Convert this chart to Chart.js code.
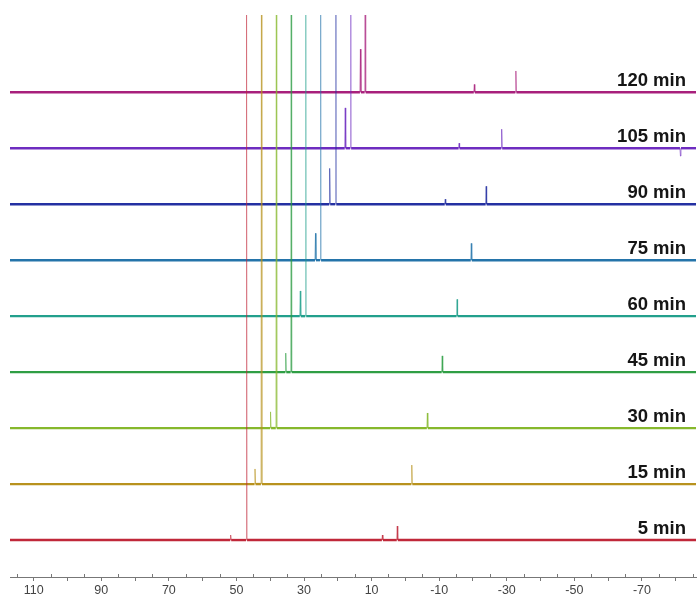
<!DOCTYPE html>
<html>
<head>
<meta charset="utf-8">
<title>Stacked spectra</title>
<script src="https://cdn.jsdelivr.net/npm/chart.js@4.4.1/dist/chart.umd.min.js"></script>
<style>
  html, body { margin: 0; padding: 0; background: #fff; }
  canvas { display: block; }
</style>
</head>
<body>
<canvas id="spectra" width="697" height="601"></canvas>
<script>
// reaction time for each trace, bottom to top
const timeLabels = ['5 min', '15 min', '30 min', '45 min', '60 min', '75 min', '90 min', '105 min', '120 min'];
const traceColors = ['#c0283a', '#b8921e', '#86b82c', '#2f9e44', '#22a08c', '#2474aa', '#2430a2', '#6e2cc0', '#a8207c'];

// chemical shifts (ppm) and intensities of the peaks in each trace
const mainShift = [47.0, 42.6, 38.2, 33.8, 29.5, 25.1, 20.6, 16.2, 11.9];
const mainHeight = [1000, 1000, 1000, 1000, 1000, 1000, 1000, 1000, 1000]; // off scale
const shoulderShift = [51.7, 44.5, 39.9, 35.4, 31.1, 26.6, 22.4, 17.8, 13.3];
const shoulderHeight = [9, 27, 29, 34, 45, 48, 64, 72, 77];
const upfieldShift = [2.4, -1.9, -6.5, -10.9, -15.3, -19.5, -23.9, -28.5, -32.7];
const upfieldHeight = [25, 34, 27, 29, 30, 30, 32, 34, 38];
const smallPeaks = [
  [[6.8, 9]],
  [],
  [],
  [],
  [],
  [],
  [[-11.8, 9]],
  [[-15.9, 9], [-81.4, -14]],
  [[-20.4, 14]]
];

// axis
const ppmStart = 117;
const ppmEnd = -86;
const majorTicks = [110, 100, 90, 80, 70, 60, 50, 40, 30, 20, 10, 0, -10, -20, -30, -40, -50, -60, -70, -80];
const rowGap = 100;

function fade(hex, a) {
  const n = parseInt(hex.slice(1), 16);
  return 'rgba(' + (n >> 16) + ',' + ((n >> 8) & 255) + ',' + (n & 255) + ',' + a + ')';
}

function buildTrace(row) {
  const base = row * rowGap;
  let peaks = [
    [mainShift[row], mainHeight[row]],
    [shoulderShift[row], shoulderHeight[row]],
    [upfieldShift[row], upfieldHeight[row]]
  ].concat(smallPeaks[row]);
  peaks.sort((a, b) => b[0] - a[0]);

  const pts = [{ x: ppmStart, y: base }];
  peaks.forEach(p => {
    pts.push({ x: p[0] + 0.15, y: base });
    pts.push({ x: p[0], y: base + p[1] });
    pts.push({ x: p[0] - 0.15, y: base });
  });
  pts.push({ x: ppmEnd, y: base });
  return pts;
}

const isFlat = ctx => ctx.p0.parsed.y === ctx.p1.parsed.y;
// tall off-scale lines come out paler than the small peaks
const peakAlpha = ctx => Math.abs(ctx.p1.parsed.y - ctx.p0.parsed.y) > 500 ? 0.45 : 0.6;

const datasets = timeLabels.map((label, i) => ({
  label: label,
  data: buildTrace(i),
  borderColor: traceColors[i],
  borderWidth: 2.4,
  pointRadius: 0,
  tension: 0,
  segment: {
    borderColor: ctx => isFlat(ctx) ? traceColors[i] : fade(traceColors[i], peakAlpha(ctx)),
    borderWidth: ctx => isFlat(ctx) ? 2.4 : 1
  }
}));

// time labels sit just above each baseline at the right
const traceLabels = {
  id: 'traceLabels',
  afterDatasetsDraw(chart) {
    const ctx = chart.ctx;
    const y = chart.scales.y;
    ctx.save();
    ctx.font = 'bold 18.5px "Liberation Sans", Arial, sans-serif';
    ctx.fillStyle = '#151515';
    ctx.textAlign = 'right';
    ctx.textBaseline = 'alphabetic';
    timeLabels.forEach((t, i) => {
      ctx.fillText(t, 686, y.getPixelForValue(i * rowGap) - 6);
    });
    ctx.restore();
  }
};

// short upward ticks halfway between the labelled ones
const minorTicks = {
  id: 'minorTicks',
  afterDraw(chart) {
    const ctx = chart.ctx;
    const x = chart.scales.x;
    const yPos = chart.chartArea.bottom;
    ctx.save();
    ctx.strokeStyle = '#777';
    ctx.lineWidth = 1;
    for (let v = 115; v > ppmEnd; v -= 10) {
      const px = Math.round(x.getPixelForValue(v)) + 0.5;
      ctx.beginPath();
      ctx.moveTo(px, yPos);
      ctx.lineTo(px, yPos - 3);
      ctx.stroke();
    }
    ctx.restore();
  }
};

new Chart(document.getElementById('spectra'), {
  type: 'line',
  data: { datasets: datasets },
  options: {
    responsive: false,
    animation: false,
    layout: { padding: { left: 10, top: 15, right: 1, bottom: 0 } },
    plugins: {
      legend: { display: false },
      tooltip: { enabled: false }
    },
    scales: {
      x: {
        type: 'linear',
        reverse: true,
        min: ppmEnd,
        max: ppmStart,
        afterBuildTicks: scale => { scale.ticks = majorTicks.map(v => ({ value: v })); },
        afterFit: scale => { scale.height = 24; },
        ticks: {
          autoSkip: false,
          maxRotation: 0,
          padding: 2,
          color: '#444',
          font: { size: 12.5, family: '"Liberation Sans", Arial, sans-serif' },
          callback: v => Math.abs(v) % 20 === 10 ? String(v) : ''
        },
        grid: { drawOnChartArea: false, tickLength: 4, color: '#777' },
        border: { color: '#777' }
      },
      y: {
        display: false,
        min: -66,
        max: 938
      }
    }
  },
  plugins: [traceLabels, minorTicks]
});
</script>
</body>
</html>
